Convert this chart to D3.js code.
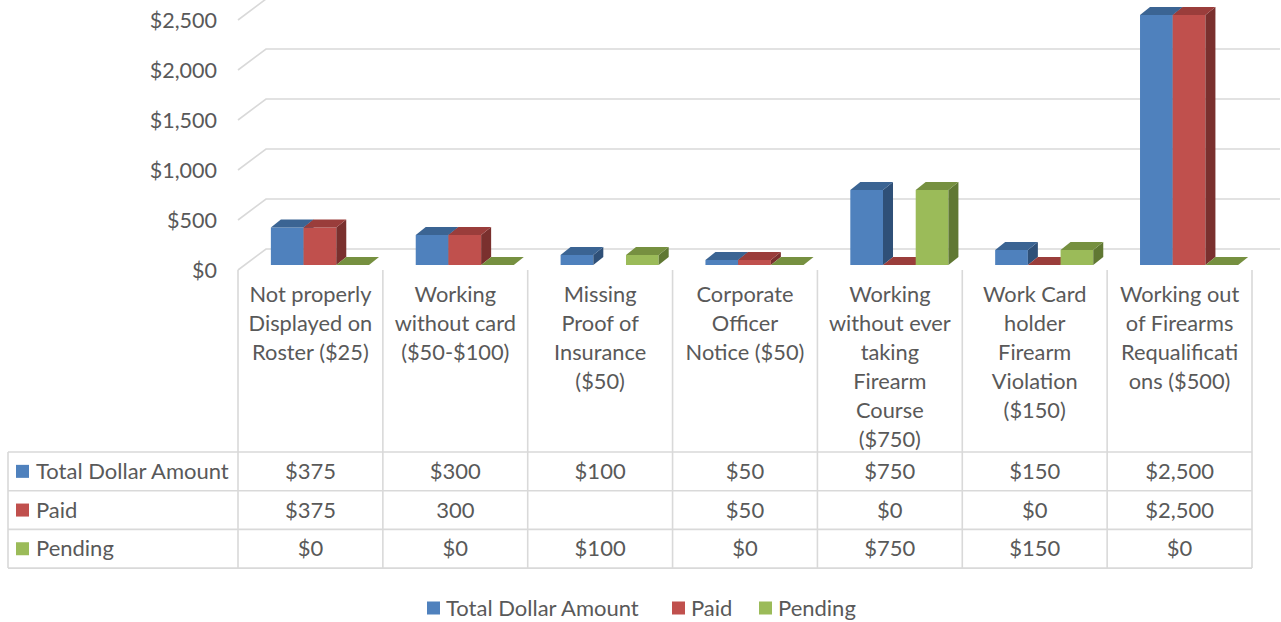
<!DOCTYPE html>
<html>
<head>
<meta charset="utf-8">
<script src="https://cdn.jsdelivr.net/npm/d3@7"></script>
<style>
  html, body { margin: 0; padding: 0; background: #fff; }
  svg { display: block; font-family: Lato, "Open Sans", sans-serif; }
</style>
</head>
<body>
<svg id="chart" width="1281" height="622"></svg>
<script>
// categories (label lines as shown under the columns)
const categories = [
  ["Not properly", "Displayed on", "Roster ($25)"],
  ["Working", "without card", "($50-$100)"],
  ["Missing", "Proof of", "Insurance", "($50)"],
  ["Corporate", "Officer", "Notice ($50)"],
  ["Working", "without ever", "taking", "Firearm", "Course", "($750)"],
  ["Work Card", "holder", "Firearm", "Violation", "($150)"],
  ["Working out", "of Firearms", "Requalificati", "ons ($500)"]
];
const seriesNames = ["Total Dollar Amount", "Paid", "Pending"];
const totalValues = [375, 300, 100, 50, 750, 150, 2500];
const paidValues = [375, 300, null, 50, 0, 0, 2500];
const pendingValues = [0, 0, 100, 0, 750, 150, 0];
// text as printed in the data table
const totalLabels = ["$375", "$300", "$100", "$50", "$750", "$150", "$2,500"];
const paidLabels = ["$375", "300", "", "$50", "$0", "$0", "$2,500"];
const pendingLabels = ["$0", "$0", "$100", "$0", "$750", "$150", "$0"];
const yTicks = [0, 500, 1000, 1500, 2000, 2500];

const colors = {
  front: ["#4F81BD", "#C0504D", "#9BBB59"],
  top: ["#3B6493", "#9A3D3B", "#769040"],
  side: ["#2F5078", "#7A302E", "#607833"]
};
const textColor = "#595959";
const gridColor = "#D9D9D9";

const svg = d3.select("#chart");
const seriesValues = [totalValues, paidValues, pendingValues];
const seriesLabels = [totalLabels, paidLabels, pendingLabels];

// layout
const plotLeft = 238, plotRight = 1252;
const depthX = 28, depthY = -21;
const tableTop = 452, rowH = 38.7, tableLeft = 8;

const x = d3.scaleBand()
  .domain(d3.range(categories.length))
  .range([plotLeft, plotRight]);
const gridY = d3.scaleLinear().domain([0, 2500]).range([270, 20]);
const barY = d3.scaleLinear().domain([0, 2500]).range([265, 15]);

const barW = 32.7, barDX = 10, barDY = -8;
const xs = d3.scaleBand().domain(d3.range(3)).range([0, barW * 3]);
const groupOffset = (x.bandwidth() - barW * 3) / 2 + 9.5;

// wall gridlines
const grid = svg.append("g")
  .attr("fill", "none")
  .attr("stroke", gridColor)
  .attr("stroke-width", 1.6);
yTicks.forEach(t => {
  const yf = gridY(t);
  grid.append("path")
    .attr("d", `M${plotLeft},${yf} L${plotLeft + depthX},${yf + depthY} L${plotRight + depthX},${yf + depthY}`);
});

// y axis labels
svg.append("g")
  .selectAll("text")
  .data(yTicks)
  .join("text")
  .attr("x", 217)
  .attr("y", d => gridY(d))
  .attr("dy", "0.35em")
  .attr("text-anchor", "end")
  .attr("fill", textColor)
  .style("font-size", "21.5px")
  .text(d3.format("$,"));

// bars
const bars = svg.append("g");
categories.forEach((c, ci) => {
  seriesValues.forEach((vals, si) => {
    const v = vals[ci];
    if (v === null) return;
    const x0 = x(ci) + groupOffset + xs(si);
    const x1 = x0 + barW;
    const yb = barY(0), yt = barY(v);
    if (v > 0) {
      bars.append("rect")
        .attr("x", x0).attr("y", yt)
        .attr("width", barW).attr("height", yb - yt)
        .attr("fill", colors.front[si]);
      bars.append("path")
        .attr("d", `M${x1},${yb} L${x1 + barDX},${yb + barDY} L${x1 + barDX},${yt + barDY} L${x1},${yt}Z`)
        .attr("fill", colors.side[si]);
    }
    bars.append("path")
      .attr("d", `M${x0},${yt} L${x1},${yt} L${x1 + barDX},${yt + barDY} L${x0 + barDX},${yt + barDY}Z`)
      .attr("fill", colors.top[si]);
  });
});

// data table lines
const lines = svg.append("g")
  .attr("stroke", gridColor)
  .attr("stroke-width", 1.6);
const tableBottom = tableTop + rowH * 3;
d3.range(categories.length + 1).forEach(i => {
  const xx = i < categories.length ? x(i) : plotRight;
  lines.append("line")
    .attr("x1", xx).attr("x2", xx)
    .attr("y1", 270).attr("y2", tableBottom);
});
d3.range(4).forEach(r => {
  lines.append("line")
    .attr("x1", tableLeft).attr("x2", plotRight)
    .attr("y1", tableTop + r * rowH).attr("y2", tableTop + r * rowH);
});
lines.append("line")
  .attr("x1", tableLeft).attr("x2", tableLeft)
  .attr("y1", tableTop).attr("y2", tableBottom);

// category labels
const catG = svg.append("g")
  .attr("fill", textColor)
  .attr("text-anchor", "middle")
  .style("font-size", "21.8px");
categories.forEach((lns, ci) => {
  lns.forEach((ln, li) => {
    catG.append("text")
      .attr("x", x(ci) + x.bandwidth() / 2)
      .attr("y", 294 + li * 29)
      .attr("dy", "0.35em")
      .text(ln);
  });
});

// table rows
const rowsG = svg.append("g").attr("fill", textColor).style("font-size", "22px");
seriesNames.forEach((name, si) => {
  const cy = tableTop + rowH * si + rowH / 2;
  rowsG.append("rect")
    .attr("x", 16).attr("y", cy - 6.5)
    .attr("width", 13).attr("height", 13)
    .attr("fill", colors.front[si]);
  rowsG.append("text")
    .attr("x", 36).attr("y", cy).attr("dy", "0.35em")
    .text(name);
  seriesLabels[si].forEach((lab, ci) => {
    rowsG.append("text")
      .attr("x", x(ci) + x.bandwidth() / 2)
      .attr("y", cy).attr("dy", "0.35em")
      .attr("text-anchor", "middle")
      .text(lab);
  });
});

// legend
const legendItems = [
  { name: seriesNames[0], x: 427 },
  { name: seriesNames[1], x: 672 },
  { name: seriesNames[2], x: 759 }
];
const legend = svg.append("g").attr("fill", textColor).style("font-size", "22px");
legendItems.forEach((d, i) => {
  legend.append("rect")
    .attr("x", d.x).attr("y", 601.5)
    .attr("width", 13).attr("height", 13)
    .attr("fill", colors.front[i]);
  legend.append("text")
    .attr("x", d.x + 19).attr("y", 608).attr("dy", "0.35em")
    .text(d.name);
});
</script>
</body>
</html>
